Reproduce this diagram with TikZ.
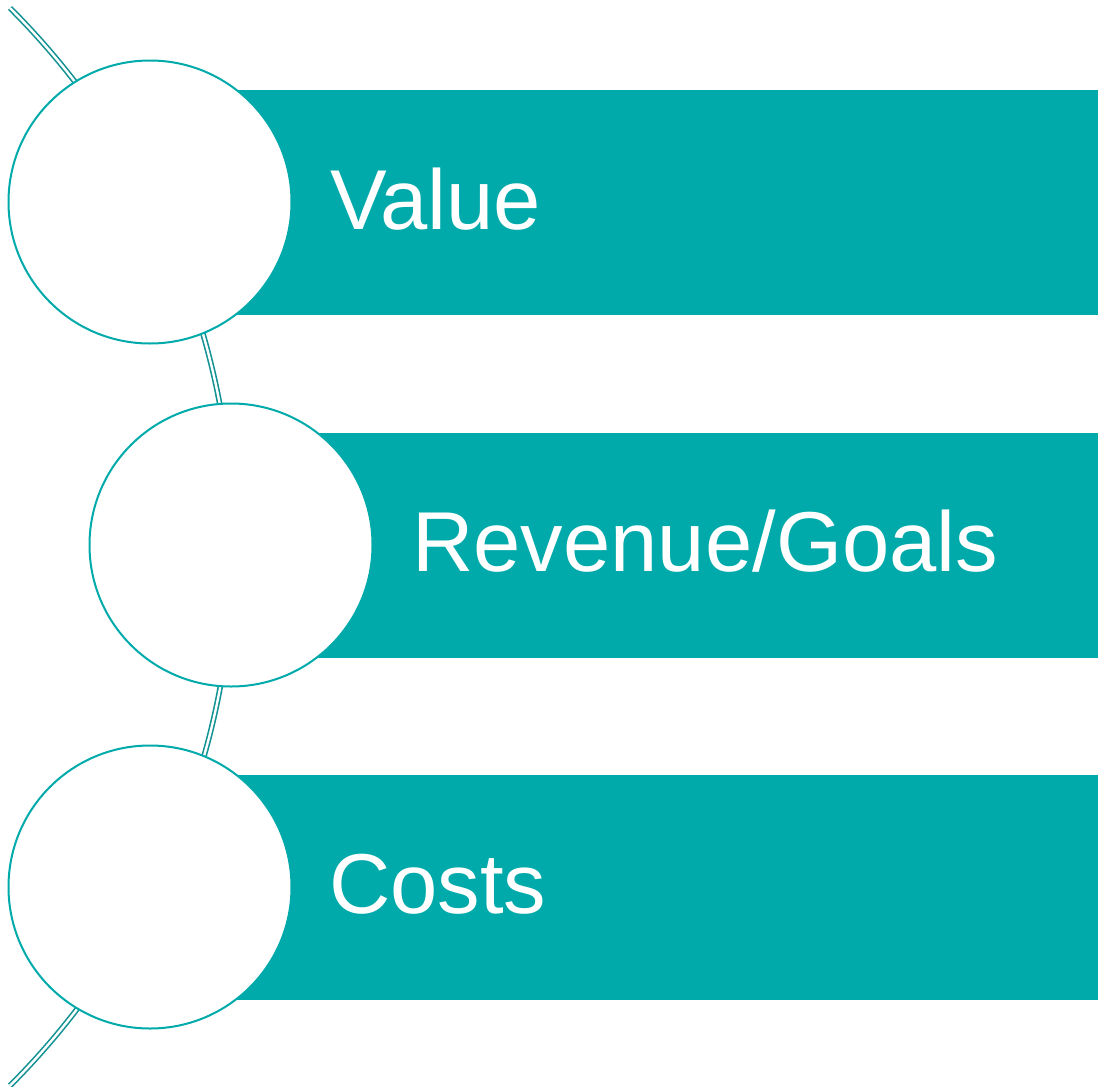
\documentclass[tikz,border=0pt]{standalone}
\usepackage{fontspec}
\setmainfont{Liberation Sans}
\definecolor{barteal}{HTML}{00AAAA}
\definecolor{lineteal}{HTML}{129292}
\tikzset{
  bar/.style={fill=barteal, draw=none, rectangle, anchor=west, minimum width=862pt, minimum height=225pt, inner sep=0pt},
  ball/.style={circle, fill=white, draw=barteal, line width=2pt, minimum size=283pt, inner sep=0pt},
  label/.style={text=white, anchor=base west, inner sep=0pt, font=\fontsize{85pt}{85pt}\selectfont}
}
\begin{document}
\begin{tikzpicture}[x=1pt,y=-1pt]
\useasboundingbox (0,0) rectangle (1098,1087);
% the curved spine behind the circles
\coordinate (arctop) at (10,8);
\draw[lineteal, double=white, double distance=2.4pt, line width=1.6pt] (arctop) arc[start angle=45, end angle=-45, radius=762pt];
% bars
\node[bar] (bar1) at (236,202) {};
\node[bar] (bar2) at (318,545) {};
\node[bar] (bar3) at (236,887) {};
% circles
\node[ball] (c1) at (150,202) {};
\node[ball] (c2) at (231,545) {};
\node[ball] (c3) at (150,887) {};
% texts
\node[label] (t1) at (330,229) {Value};
\node[label] (t2) at (412,571) {Revenue/Goals};
\node[label] (t3) at (329,913) {Costs};
\end{tikzpicture}
\end{document}
